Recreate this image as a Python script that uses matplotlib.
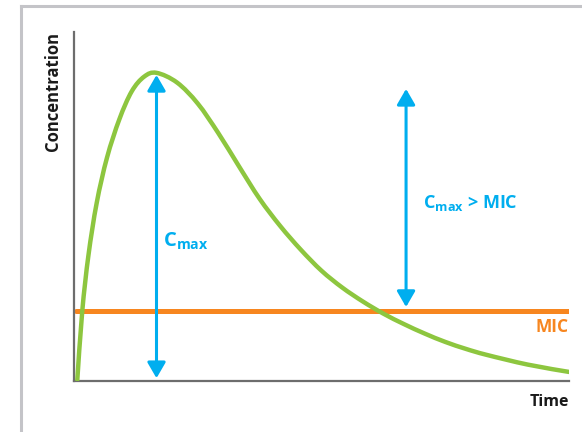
import numpy as np
import matplotlib.pyplot as plt
from matplotlib.lines import Line2D
from matplotlib.path import Path
from matplotlib.patches import PathPatch

plt.rcParams['font.family'] = ['Open Sans', 'DejaVu Sans']
plt.rcParams['mathtext.fontset'] = 'custom'
plt.rcParams['mathtext.rm'] = 'Open Sans'
plt.rcParams['mathtext.bf'] = 'Open Sans:bold'

# concentration-time curve (arbitrary units)
time = [0.08, 0.2, 0.35, 0.55, 0.8, 1.1, 1.4, 1.7, 2.0, 2.5, 3.0, 3.5, 4.0, 4.5,
        5.0, 5.5, 6.0, 6.5, 7.0, 7.5, 8.0, 8.5, 9.0, 9.5, 10.0, 11.0, 12.0]
conc = [0.03, 2.0, 3.6, 5.1, 6.4, 7.5, 8.3, 8.72, 8.83, 8.55, 7.95, 7.1, 6.15, 5.22,
        4.44, 3.76, 3.16, 2.68, 2.28, 1.93, 1.63, 1.36, 1.12, 0.92, 0.75, 0.47, 0.26]
mic = 2.0
cmax_t, cmax = 2.0, 8.77
gap_t, gap_top, gap_bottom = 8.05, 8.37, 2.12

green = '#8dc63f'
orange = '#f7861f'
blue = '#00aeef'


def smooth_path(x, y):
    # Catmull-Rom through the points, drawn as cubic Bezier segments
    p = np.column_stack([x, y])
    verts = [p[0]]
    codes = [Path.MOVETO]
    n = len(p)
    for i in range(n - 1):
        p0 = p[max(i - 1, 0)]
        p1, p2 = p[i], p[i + 1]
        p3 = p[min(i + 2, n - 1)]
        verts += [p1 + (p2 - p0) / 6, p2 - (p3 - p1) / 6, p2]
        codes += [Path.CURVE4] * 3
    return Path(verts, codes)


fig = plt.figure(figsize=(5.82, 4.32), dpi=100)
ax = fig.add_axes([74 / 582, 51 / 432, 495 / 582, 349 / 432])

ax.add_patch(PathPatch(smooth_path(time, conc), facecolor='none', edgecolor=green,
                       lw=3.2, capstyle='round', zorder=3))
ax.plot([0.05, 12], [mic, mic], color=orange, lw=3.6, solid_capstyle='round', zorder=2)

arrow = dict(arrowstyle='<|-|>,head_length=0.95,head_width=0.55', color=blue, lw=2.2,
             shrinkA=0, shrinkB=0)
ax.annotate('', xy=(cmax_t, cmax), xytext=(cmax_t, 0.08), arrowprops=arrow, zorder=4)
ax.annotate('', xy=(gap_t, gap_top), xytext=(gap_t, gap_bottom), arrowprops=arrow, zorder=4)

ax.text(2.15, 4.0, r'$\mathbf{C_{max}}$', color=blue, fontsize=14.5, va='center')
ax.text(8.45, 5.1, r'$\mathbf{C_{max}}$ > MIC', color=blue, fontsize=13,
        fontweight='bold', va='center')
ax.text(12, 1.55, 'MIC', color=orange, fontsize=12.5, fontweight='bold',
        ha='right', va='center')

ax.set_xlim(0, 12)
ax.set_ylim(0, 10)
ax.set_xticks([])
ax.set_yticks([])
for s in ['top', 'right']:
    ax.spines[s].set_visible(False)
for s in ['left', 'bottom']:
    ax.spines[s].set_color('#6d6d6d')
    ax.spines[s].set_linewidth(1.6)

fig.text(53 / 582, 1 - 32 / 432, 'Concentration', rotation=90, ha='center', va='top',
         fontsize=12, fontweight='bold', color='#1a1a1a')
fig.text(569 / 582, 1 - 402 / 432, 'Time', ha='right', va='center',
         fontsize=11.5, fontweight='bold', color='#1a1a1a')

# frame of the panel
fig.add_artist(Line2D([21 / 582, 1], [1 - 6 / 432, 1 - 6 / 432], color='#c4c4c8', lw=2.2))
fig.add_artist(Line2D([21 / 582, 21 / 582], [0, 1 - 6 / 432], color='#c4c4c8', lw=2.2))

fig.savefig('out.png', dpi=100)
